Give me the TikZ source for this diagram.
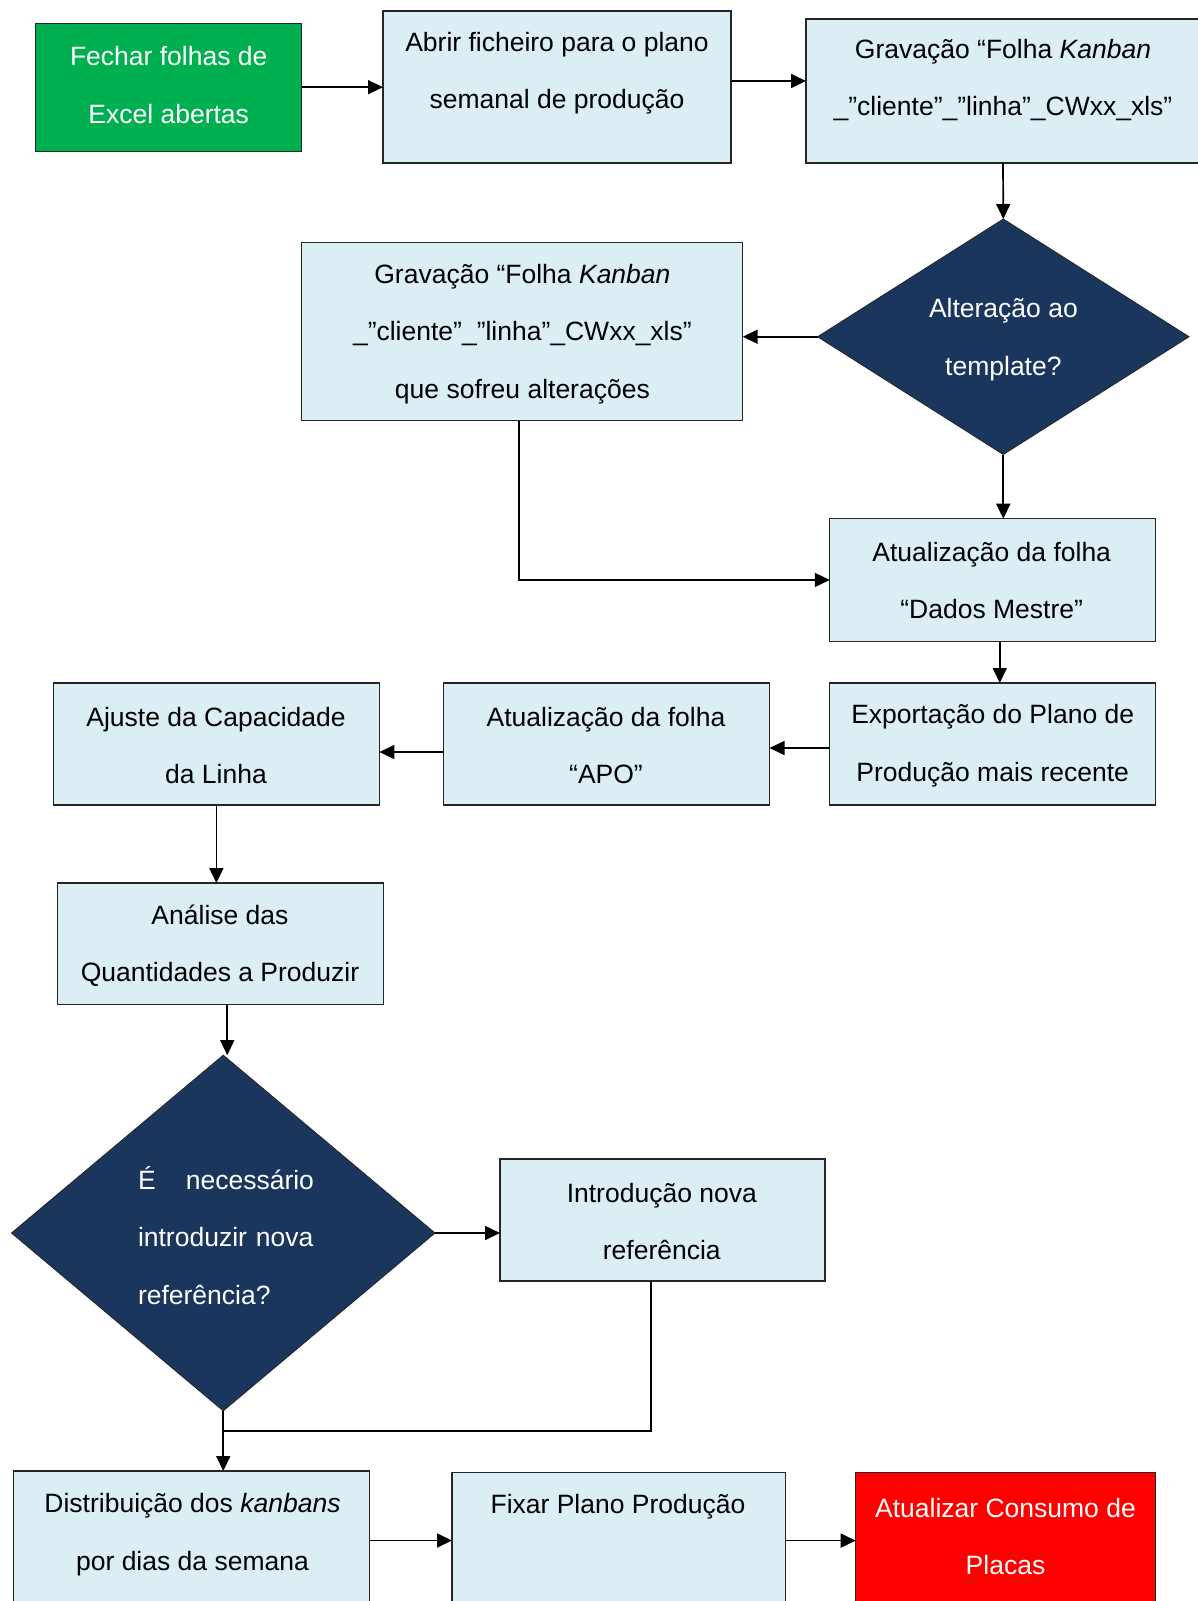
\documentclass[tikz,border=0pt]{standalone}
\usepackage{fontspec}
\setmainfont{Liberation Sans}
\usetikzlibrary{arrows.meta,shapes.geometric}
\definecolor{boxfill}{HTML}{DAEEF3}
\definecolor{startgreen}{HTML}{00B050}
\definecolor{endred}{HTML}{FF0000}
\definecolor{decnavy}{HTML}{1A365D}
\definecolor{edge}{HTML}{262626}
\begin{document}
\begin{tikzpicture}[x=1pt,y=-1pt,
  every node/.style={inner sep=0pt, outer sep=0pt},
  proc/.style={rectangle, draw=edge, line width=1.1pt, fill=boxfill},
  startbox/.style={proc, fill=startgreen},
  endbox/.style={proc, fill=endred},
  decision/.style={diamond, draw=edge, line width=0.8pt, fill=decnavy},
  label/.style={font=\fontsize{26.5}{57.5}\selectfont, align=center, text=black},
  lightlabel/.style={label, text=white},
  arr/.style={line width=1.7pt, -{Triangle[length=15pt,width=14pt]}},
  link/.style={line width=1.7pt}]
\useasboundingbox (0,0) rectangle (1197,1601);

% boxes and decisions
\node[startbox, minimum width=265.6pt, minimum height=127.7pt] (fechar) at (168.7,87.2) {};
\node[proc, minimum width=348pt, minimum height=152pt] (abrir) at (557,87) {};
\node[proc, minimum width=394pt, minimum height=144pt] (grav1) at (1003,91) {};
\node[decision, minimum width=371.5pt, minimum height=235.5pt] (alt) at (1003.3,336.75) {};
\node[proc, minimum width=441.2pt, minimum height=178.1pt] (grav2) at (522.1,331.75) {};
\node[proc, minimum width=325.9pt, minimum height=122.5pt] (dados) at (992.75,579.95) {};
\node[proc, minimum width=325.9pt, minimum height=122pt] (export) at (992.75,744) {};
\node[proc, minimum width=326pt, minimum height=122pt] (apo) at (606.5,744) {};
\node[proc, minimum width=326pt, minimum height=122pt] (ajuste) at (216.4,744) {};
\node[proc, minimum width=325.9pt, minimum height=121.8pt] (analise) at (220.25,943.9) {};
\node[decision, minimum width=423.5pt, minimum height=355.7pt] (dia2) at (223.25,1233) {};
\node[proc, minimum width=325pt, minimum height=122pt] (intro) at (662.5,1220) {};
\node[proc, minimum width=355.8pt, minimum height=139pt] (distr) at (191.6,1540.5) {};
\node[proc, minimum width=333.5pt, minimum height=135.6pt] (fixar) at (618.75,1540.6) {};
\node[endbox, minimum width=300pt, minimum height=135.6pt] (atual) at (1005.7,1540.6) {};

% texts
\node[lightlabel] (t-fechar) at (168.7,85) {Fechar folhas de\\Excel abertas};
\node[label] (t-abrir) at (557,73) {Abrir ficheiro para o plano\\semanal de produção};
\node[label] (t-grav1) at (1003,80) {Gravação “Folha \textit{Kanban}\\\_”cliente”\_”linha”\_CWxx\_xls”};
\node[lightlabel] (t-alt) at (1003.4,339.6) {Alteração ao\\template?};
\node[label] (t-grav2) at (522.4,334) {Gravação “Folha \textit{Kanban}\\\_”cliente”\_”linha”\_CWxx\_xls”\\que sofreu alterações};
\node[label] (t-dados) at (991.7,580.6) {Atualização da folha\\“Dados Mestre”};
\node[label] (t-export) at (992.7,745.5) {Exportação do Plano de\\Produção mais recente};
\node[label] (t-apo) at (606,745.5) {Atualização da folha\\“APO”};
\node[label] (t-ajuste) at (216,745.5) {Ajuste da Capacidade\\da Linha};
\node[label] (t-analise) at (220,945.5) {Análise das\\Quantidades a Produzir};
\node[lightlabel, align=left, text width=176pt, anchor=west] (t-dia2) at (138,1235.5) {É\hfill necessário\\introduzir nova\\referência?};
\node[label] (t-intro) at (661.8,1221.5) {Introdução nova\\referência};
\node[label] (t-distr) at (192.5,1534.5) {Distribuição dos \textit{kanbans}\\por dias da semana};
\node[label] (t-fixar) at (618,1507) {Fixar Plano Produção};
\node[lightlabel] (t-atual) at (1005.5,1536.3) {Atualizar Consumo de\\Placas};

% connectors
\draw[arr] (fechar.east) -- (fechar.east -| abrir.west);
\draw[arr] ([yshift=6pt]abrir.east) -- ([yshift=6pt]abrir.east -| grav1.west);
\draw[arr] (grav1.south) -- (alt.north);
\draw[arr] (alt.west) -- (alt.west -| grav2.east);
\draw[arr] (alt.south) -- (alt.south |- dados.north);
\draw[arr] ([xshift=-3pt]grav2.south) |- (dados.west);
\draw[arr] ([xshift=7pt]dados.south) -- ([xshift=7pt]export.north);
\draw[arr] ([yshift=-4pt]export.west) -- ([yshift=-4pt]export.west -| apo.east);
\draw[arr] ([yshift=-8pt]apo.west) -- ([yshift=-8pt]apo.west -| ajuste.east);
\draw[arr] (ajuste.south) -- (ajuste.south |- analise.north);
\draw[arr] ([xshift=7pt]analise.south) -- ([xshift=7pt]analise.south |- dia2.north);
\draw[arr] (dia2.east) -- (dia2.east -| intro.west);
\coordinate (join) at (223.25,1431.3);
\draw[link] ([xshift=-11.5pt]intro.south) |- (join);
\draw[arr] (dia2.south) -- (dia2.south |- distr.north);
\draw[arr] (distr.east) -- (distr.east -| fixar.west);
\draw[arr] (fixar.east) -- (fixar.east -| atual.west);
\end{tikzpicture}
\end{document}
